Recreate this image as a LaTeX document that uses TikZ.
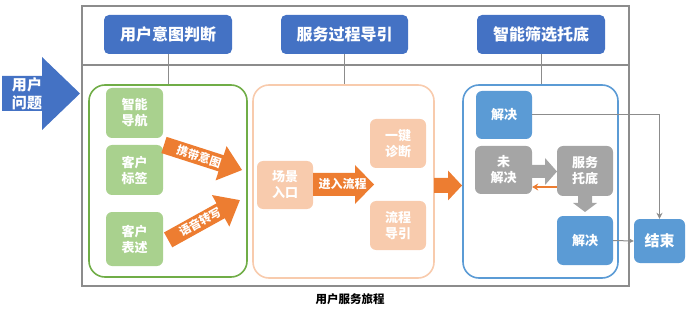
\documentclass[tikz,border=0pt]{standalone}
\usepackage{fontspec}
\setmainfont{Noto Sans CJK SC}
\usetikzlibrary{arrows.meta,calc}
\definecolor{hblue}{HTML}{4472C4}
\definecolor{mblue}{HTML}{5B9BD5}
\definecolor{lgreen}{HTML}{A9D18E}
\definecolor{dgreen}{HTML}{70AD47}
\definecolor{peach}{HTML}{F8CBAD}
\definecolor{orng}{HTML}{ED7D31}
\definecolor{gry}{HTML}{A5A5A5}
\definecolor{frm}{HTML}{8C8C8C}
% #1 x, #2 y, #3 rotation, #4 length, #5 body width, #6 head width, #7 head length, #8 colour
\newcommand\myblockarrow[8]{%
  \begin{scope}[shift={(#1,#2)},rotate=#3]
    \fill[#8] ({-#4/2},{-#5/2}) -- ({#4/2-#7},{-#5/2}) -- ({#4/2-#7},{-#6/2}) -- ({#4/2},0)
      -- ({#4/2-#7},{#6/2}) -- ({#4/2-#7},{#5/2}) -- ({-#4/2},{#5/2}) -- cycle;
  \end{scope}}
\begin{document}
\begin{tikzpicture}[x=1pt,y=-1pt,
  header/.style={fill=hblue,rounded corners=5pt,text=white,font=\fontsize{16}{18}\selectfont\bfseries,minimum width=128pt,minimum height=39pt,inner sep=0pt},
  panel/.style={draw=#1,line width=1.6pt,rounded corners=16pt,inner sep=0pt},
  sbox/.style={fill=#1,rounded corners=6pt,text=white,font=\fontsize{13}{16}\selectfont\bfseries,align=center,inner sep=0pt},
  atext/.style={text=white,font=\fontsize{11.5}{13}\selectfont\bfseries,inner sep=0pt},
  conn/.style={draw=frm,line width=1pt},
  connarr/.style={draw=frm,line width=1pt,-{Stealth[length=6pt,width=6pt]}}
]
\useasboundingbox (0,0) rectangle (692,312);
% frame
\draw[frm,line width=1.2pt] (82,6) rectangle (629,286);
\draw[frm,line width=1.2pt] (82,65) -- (629,65);
% big input arrow
\myblockarrow{41}{93.5}{0}{78}{35}{73}{38}{hblue}
\node[text=white,font=\fontsize{15}{18.5}\selectfont\bfseries,align=center,inner sep=0pt] (intxt) at (27,94) {用户\\问题};
% headers
\node[header] (h1) at (168,34.5) {用户意图判断};
\node[header,minimum width=127pt] (h2) at (344.5,34.5) {服务过程导引};
\node[header] (h3) at (541,34.5) {智能筛选托底};
% panels
\node[panel=dgreen,minimum width=158pt,minimum height=192pt] (gp) at (168,181) {};
\node[panel=peach,minimum width=181pt,minimum height=193pt] (pp) at (343.5,181.5) {};
\node[panel=mblue,minimum width=155pt,minimum height=193pt] (bp) at (540.5,181.5) {};
\draw[conn] (h1.south) -- (h1.south |- gp.north);
\draw[conn] (h2.south) -- (h2.south |- pp.north);
\draw[conn] (h3.south) -- (h3.south |- bp.north);
% green boxes
\node[sbox=lgreen,minimum width=57pt,minimum height=50pt] (g1) at (134.5,113) {智能\\导航};
\node[sbox=lgreen,minimum width=57pt,minimum height=50pt] (g2) at (134.5,170) {客户\\标签};
\node[sbox=lgreen,minimum width=57pt,minimum height=54pt] (g3) at (134.5,239) {客户\\表述};
\myblockarrow{203}{157.5}{-17.8}{82}{17}{36}{22}{orng}
\node[atext,rotate=-17.8] (a1) at (199,156.5) {携带意图};
\myblockarrow{204}{220}{29}{82}{17}{36}{22}{orng}
\node[atext,rotate=29] (a2) at (200,222) {语音转写};
% peach boxes
\node[sbox=peach,minimum width=56pt,minimum height=48pt] (p1) at (285,185) {场景\\入口};
\node[sbox=peach,minimum width=56pt,minimum height=49pt] (p2) at (398,143.5) {一键\\诊断};
\node[sbox=peach,minimum width=56pt,minimum height=49pt] (p3) at (398,225.5) {流程\\导引};
\myblockarrow{343.5}{184.5}{0}{61}{23}{39}{19}{orng}
\node[atext,font=\fontsize{12}{14}\selectfont\bfseries] (a3) at (342.5,184) {进入流程};
\myblockarrow{448}{185.5}{0}{28}{15}{30}{14}{orng}
% blue panel boxes
\node[sbox=mblue,minimum width=56pt,minimum height=48pt] (b1) at (504,115) {解决};
\node[sbox=gry,minimum width=57pt,minimum height=48pt] (u) at (503.5,170) {未\\解决};
\node[sbox=gry,minimum width=56pt,minimum height=50pt] (s) at (585,171) {服务\\托底};
\node[sbox=mblue,minimum width=56pt,minimum height=49pt] (b2) at (585,240.5) {解决};
\node[sbox=mblue,minimum width=51pt,minimum height=44pt,font=\fontsize{15}{18}\selectfont\bfseries] (end) at (659.5,241) {结束};
\myblockarrow{544.5}{171.5}{0}{25}{13}{27}{12}{gry}
\myblockarrow{585}{204}{-90}{16}{14}{24}{9}{gry}
\coordinate (sback) at ($(s.west)+(0,16)$);
\draw[orng,line width=1.5pt,-{Stealth[length=6pt,width=7pt]}] (sback) -- (sback -| u.east);
% connectors to end
\draw[connarr] (b1.east) -| (end.north);
\draw[connarr] (b2.east) -- (end.west);
% caption
\node[font=\fontsize{11.5}{13}\selectfont\bfseries,inner sep=0pt] (cap) at (350,299) {用户服务旅程};
\end{tikzpicture}
\end{document}
